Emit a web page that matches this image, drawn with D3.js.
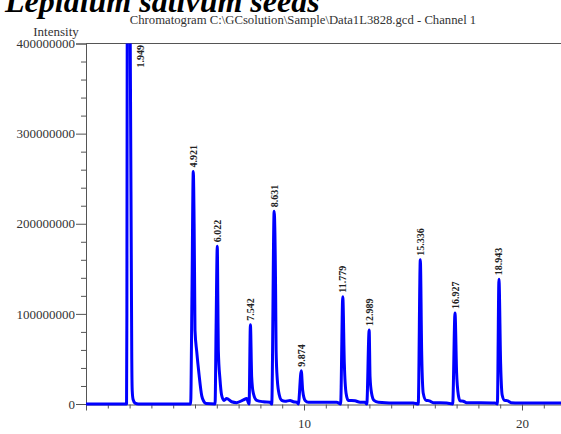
<!DOCTYPE html>
<html>
<head>
<meta charset="utf-8">
<script src="https://cdn.jsdelivr.net/npm/d3@7"></script>
<style>
  html, body { margin: 0; padding: 0; background: #fff; }
  svg { display: block; }
</style>
</head>
<body>
<svg id="chart" width="561" height="434"></svg>
<script>
// Chromatogram trace: retention time (min) and detector intensity
const traceTime = [
  0, 1.86, 1.875, 1.89, 1.949, 2.03, 2.08, 2.10, 2.12, 2.16, 2.25, 2.4,
  4.80, 4.86, 4.921, 4.96, 4.99, 5.00, 5.08, 5.18, 5.31, 5.40, 5.50,
  5.92, 5.97, 6.022, 6.05, 6.07, 6.147, 6.22, 6.33, 6.45, 6.68, 6.91, 7.22, 7.37,
  7.48, 7.542, 7.60, 7.675, 7.83, 8.13, 8.44,
  8.52, 8.631, 8.70, 8.72, 8.775, 8.867, 8.977, 9.13, 9.36, 9.51, 9.67,
  9.74, 9.874, 9.94, 10.05, 10.2, 10.58, 11.04, 11.5,
  11.68, 11.779, 11.85, 11.93, 12.03, 12.34, 12.57, 12.80,
  12.88, 12.989, 13.03, 13.10, 13.21, 13.41, 14.4, 15.01,
  15.24, 15.336, 15.40, 15.47, 15.60, 15.75, 15.93, 16.55,
  16.82, 16.927, 17.00, 17.08, 17.16, 17.31, 17.46, 18.76,
  18.87, 18.943, 19.02, 19.09, 19.20, 19.35, 19.50, 19.88, 22
];
const traceIntensity = [
  0, 0, 100e6, 400e6, 700e6, 400e6, 150e6, 50e6, 15e6, 5e6, 1e6, 0,
  0, 120e6, 258e6, 200e6, 110e6, 82e6, 58e6, 34e6, 9e6, 3e6, 0.5e6,
  0, 90e6, 175e6, 110e6, 60e6, 27e6, 10e6, 4e6, 6e6, 2.5e6, 1.5e6, 4.5e6, 6e6,
  0, 88e6, 30e6, 12e6, 4e6, 2.5e6, 2e6,
  0, 214e6, 120e6, 60e6, 27e6, 10e6, 4e6, 3e6, 4e6, 2.5e6, 2e6,
  0, 37e6, 15e6, 4e6, 2e6, 2e6, 2e6, 2e6,
  0, 119e6, 45e6, 12e6, 4e6, 3.5e6, 2e6, 2e6,
  0, 82e6, 30e6, 12e6, 4e6, 2e6, 1e6, 1e6,
  0, 160e6, 55e6, 12e6, 4e6, 3.5e6, 1.5e6, 1e6,
  0, 101e6, 35e6, 10e6, 3.5e6, 3e6, 1.5e6, 1e6,
  0, 138.5e6, 45e6, 10e6, 4e6, 3.5e6, 1.5e6, 1e6, 1e6
];

// Labelled peaks: retention time and apex intensity
const peakTimes = [1.949, 4.921, 6.022, 7.542, 8.631, 9.874, 11.779, 12.989, 15.336, 16.927, 18.943];
const peakHeights = [700e6, 258e6, 175e6, 88e6, 214e6, 37e6, 119e6, 82e6, 160e6, 101e6, 138.5e6];
const peakLabels = ["1.949", "4.921", "6.022", "7.542", "8.631", "9.874", "11.779", "12.989", "15.336", "16.927", "18.943"];

const yTicks = [0, 100000000, 200000000, 300000000, 400000000];
const xTicks = [10, 20];

const svg = d3.select("#chart");
const plotLeft = 86, plotTop = 43.5, plotBottom = 404;

const x = d3.scaleLinear().domain([0, 22]).range([plotLeft, plotLeft + 22 * 21.8]);
const y = d3.scaleLinear().domain([0, 400000000]).range([plotBottom, plotTop]);

const serif = "'Liberation Serif', 'Times New Roman', serif";

// Heading
svg.append("text")
  .attr("x", 5).attr("y", 11.5)
  .attr("font-family", serif).attr("font-size", 32)
  .attr("font-weight", "bold").attr("font-style", "italic")
  .attr("fill", "#000")
  .text("Lepidium sativum seeds");

svg.append("text")
  .attr("x", 303).attr("y", 24)
  .attr("text-anchor", "middle")
  .attr("font-family", serif).attr("font-size", 12.7)
  .attr("fill", "#333")
  .text("Chromatogram C:\\GCsolution\\Sample\\Data1L3828.gcd - Channel 1");

svg.append("text")
  .attr("x", 56).attr("y", 36)
  .attr("text-anchor", "middle")
  .attr("font-family", serif).attr("font-size", 13)
  .attr("fill", "#333")
  .text("Intensity");

// Frame: top border and axes
svg.append("line")
  .attr("x1", plotLeft).attr("x2", 561).attr("y1", plotTop).attr("y2", plotTop)
  .attr("stroke", "#555").attr("stroke-width", 1);

const yAxis = d3.axisLeft(y)
  .tickValues(yTicks)
  .tickFormat(d3.format("d"))
  .tickSize(10).tickPadding(1);
const yMinor = d3.axisLeft(y)
  .tickValues(d3.range(0, 400000001, 20000000).filter(v => v % 100000000 !== 0))
  .tickSize(5).tickFormat("");

const gyMinor = svg.append("g").attr("transform", `translate(${plotLeft},0)`).call(yMinor);
const gy = svg.append("g").attr("transform", `translate(${plotLeft},0)`).call(yAxis);

const xAxis = d3.axisBottom(x).tickValues(xTicks).tickSize(6).tickPadding(8);
const xMinor = d3.axisBottom(x)
  .tickValues(d3.range(1, 22).filter(v => v % 10 !== 0))
  .tickSize(4).tickFormat("");
const gxMinor = svg.append("g").attr("transform", `translate(0,${plotBottom + 0.5})`).call(xMinor);
const gx = svg.append("g").attr("transform", `translate(0,${plotBottom + 0.5})`).call(xAxis);

[gy, gyMinor, gx, gxMinor].forEach(g => {
  g.select(".domain").attr("stroke", "#555");
  g.selectAll(".tick line").attr("stroke", "#555");
  g.selectAll(".tick text")
    .attr("font-family", serif).attr("font-size", 13).attr("fill", "#333");
});
gxMinor.select(".domain").remove();
gyMinor.select(".domain").remove();

// Trace
svg.append("clipPath").attr("id", "plotClip")
  .append("rect").attr("x", plotLeft).attr("y", plotTop)
  .attr("width", 561 - plotLeft).attr("height", 430 - plotTop);

const pts = traceTime.map((t, i) => [t, traceIntensity[i]]);
svg.append("path")
  .datum(pts)
  .attr("clip-path", "url(#plotClip)")
  .attr("fill", "none")
  .attr("stroke", "#0000ff")
  .attr("stroke-width", 3)
  .attr("stroke-linejoin", "round")
  .attr("d", d3.line().x(d => x(d[0])).y(d => y(d[1])).curve(d3.curveMonotoneX));

// Peak retention-time labels
peakTimes.forEach((t, i) => {
  const h = peakHeights[i];
  const offScale = h > y.domain()[1];
  const px = offScale ? x(t) + 12 : x(t);
  const py = offScale ? plotTop + 1.5 : y(h) - 4;
  svg.append("text")
    .attr("transform", `translate(${px},${py}) rotate(-90)`)
    .attr("text-anchor", offScale ? "end" : "start")
    .attr("dy", "0.35em")
    .attr("font-family", serif).attr("font-size", 10)
    .attr("font-weight", "bold")
    .attr("fill", "#222")
    .text(peakLabels[i]);
});
</script>
</body>
</html>
